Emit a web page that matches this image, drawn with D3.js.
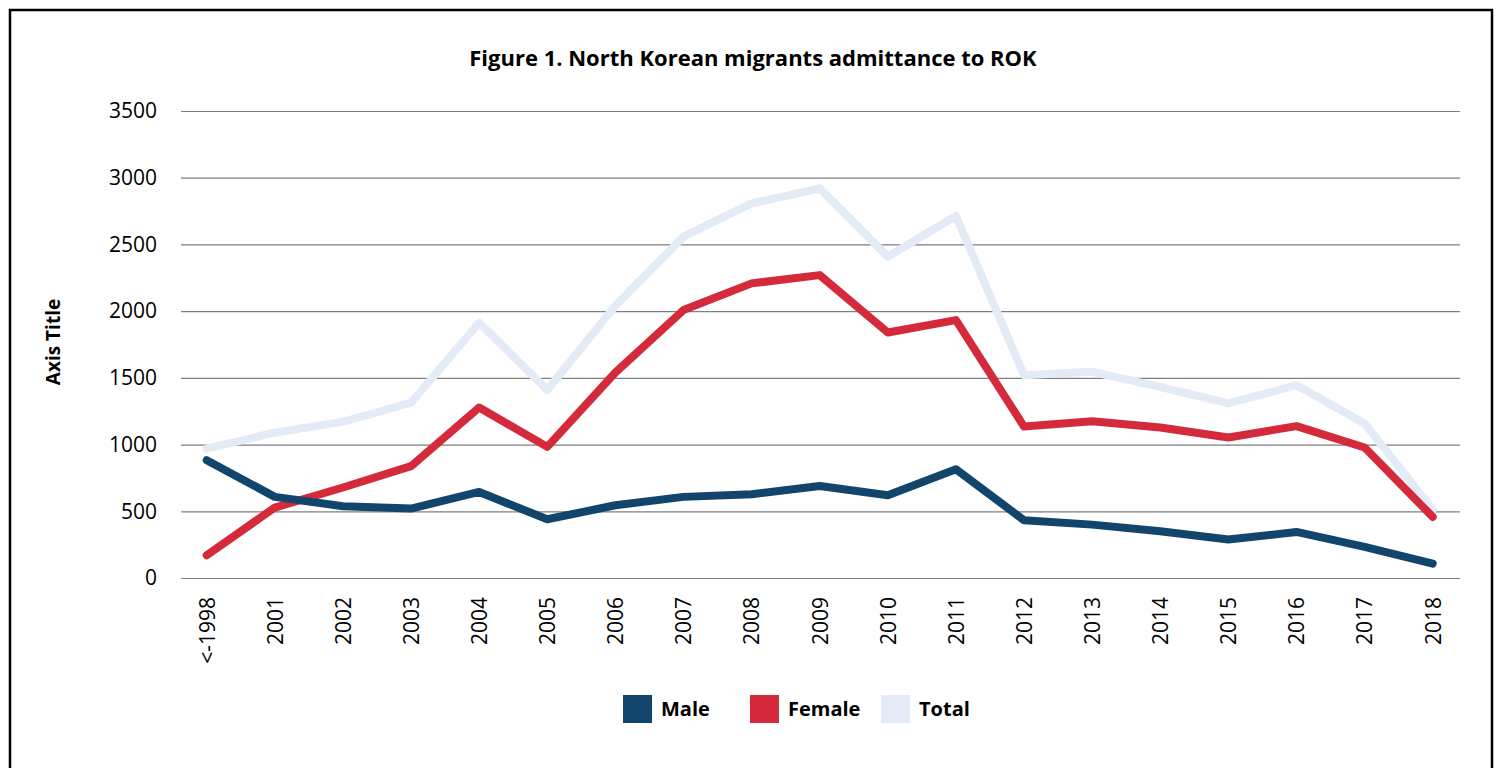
<!DOCTYPE html>
<html lang="en">
<head>
    <meta charset="UTF-8">
    <title>North Korean migrants admittance to ROK</title>
    <script src="https://cdnjs.cloudflare.com/ajax/libs/d3/7.8.2/d3.min.js"></script>
    <style>
        body { margin: 0; background: #fff; }
        svg { display: block; font-family: "Open Sans", sans-serif; }
    </style>
</head>
<body>
    <div class="container"></div>
    <script>
        // data
        const years = ['<-1998', '2001', '2002', '2003', '2004', '2005', '2006', '2007', '2008', '2009',
                       '2010', '2011', '2012', '2013', '2014', '2015', '2016', '2017', '2018'];
        const male = [883, 608, 538, 520, 645, 440, 545, 608, 628, 690, 620, 815, 433, 400, 350, 288, 345, 233, 108];
        const female = [170, 528, 678, 838, 1278, 983, 1540, 2008, 2208, 2270, 1840, 1933, 1135, 1175, 1128, 1053, 1138, 978, 458];
        const total = [970, 1090, 1170, 1315, 1913, 1410, 2040, 2558, 2808, 2920, 2408, 2713, 1520, 1545, 1433, 1308, 1445, 1158, 513];
        const yTicks = [0, 500, 1000, 1500, 2000, 2500, 3000, 3500];
        const seriesNames = ['Male', 'Female', 'Total'];
        const colors = ['#12456B', '#D42A3B', '#E3EBF6'];

        const width = 1503;
        const height = 768;
        const gridLeft = 181, gridRight = 1460;
        const plotTop = 111, plotBottom = 578;

        const svg = d3.select('.container').append('svg')
            .attr('width', width).attr('height', height);

        // outer frame
        svg.append('rect')
            .attr('x', 10).attr('y', 10)
            .attr('width', 1482).attr('height', 800)
            .attr('fill', 'none').attr('stroke', '#000').attr('stroke-width', 2.5);

        const x = d3.scalePoint().domain(years).range([206.7, 1432.7]);
        const y = d3.scaleLinear().domain([0, 3500]).range([plotBottom, plotTop]);

        // gridlines
        svg.append('g').selectAll('line')
            .data(yTicks).enter().append('line')
            .attr('x1', gridLeft).attr('x2', gridRight)
            .attr('y1', d => y(d) + 0.5).attr('y2', d => y(d) + 0.5)
            .attr('stroke', '#7f7f7f').attr('stroke-width', 1.2);

        // y axis labels
        const yAxis = d3.axisLeft(y).tickValues(yTicks).tickFormat(d3.format('d')).tickSize(0).tickPadding(0);
        svg.append('g').attr('transform', 'translate(157,0)').call(yAxis)
            .call(g => g.select('.domain').remove())
            .selectAll('text')
            .attr('font-family', '"Open Sans", sans-serif')
            .attr('font-size', 21).attr('fill', '#000');

        // x axis labels, rotated
        const xAxis = d3.axisBottom(x).tickSize(0).tickPadding(0);
        svg.append('g').attr('transform', `translate(0,${plotBottom})`).call(xAxis)
            .call(g => g.select('.domain').remove())
            .selectAll('text')
            .attr('font-family', '"Open Sans", sans-serif')
            .attr('font-size', 21).attr('fill', '#000')
            .attr('transform', 'rotate(-90)')
            .attr('text-anchor', 'end')
            .attr('x', -19).attr('y', 0).attr('dy', '0.35em');

        // lines (total drawn first so it sits behind)
        const line = d3.line().x((d, i) => x(years[i])).y(d => y(d));
        const allSeries = [male, female, total];
        [2, 1, 0].forEach(k => {
            svg.append('path')
                .datum(allSeries[k])
                .attr('d', line)
                .attr('fill', 'none')
                .attr('stroke', colors[k])
                .attr('stroke-width', 8)
                .attr('stroke-linejoin', 'round')
                .attr('stroke-linecap', 'round');
        });

        // title
        svg.append('text')
            .attr('x', 753).attr('y', 58).attr('dy', '0.35em')
            .attr('text-anchor', 'middle')
            .attr('font-size', 22).attr('font-weight', 'bold')
            .text('Figure 1. North Korean migrants admittance to ROK');

        // y axis title
        svg.append('text')
            .attr('transform', 'translate(53,342) rotate(-90)')
            .attr('text-anchor', 'middle').attr('dy', '0.35em')
            .attr('font-size', 19).attr('font-weight', 'bold')
            .text('Axis Title');

        // legend
        const legendX = [623, 750, 881];
        const legend = svg.append('g');
        seriesNames.forEach((name, i) => {
            const g = legend.append('g').attr('transform', `translate(${legendX[i]},695)`);
            g.append('rect').attr('width', 29).attr('height', 28).attr('fill', colors[i]);
            g.append('text').attr('x', 38).attr('y', 14).attr('dy', '0.35em')
                .attr('font-size', 20).attr('font-weight', 'bold').text(name);
        });
    </script>
</body>
</html>
